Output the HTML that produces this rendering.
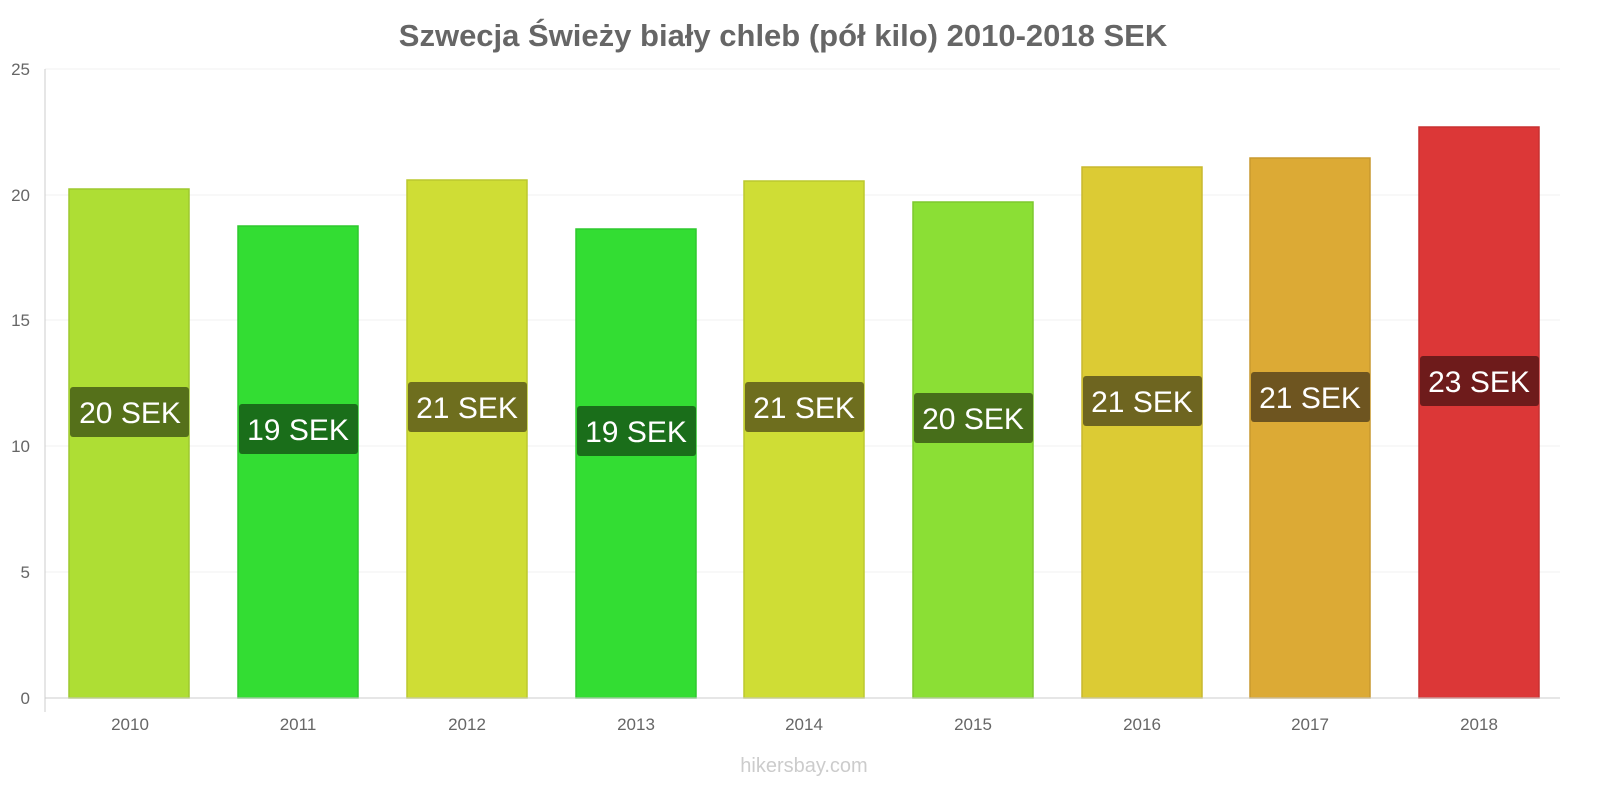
<!DOCTYPE html><html><head><style>body{margin:0;background:#fff}</style></head><body>
<svg width="1600" height="800" xmlns="http://www.w3.org/2000/svg" font-family="Liberation Sans, sans-serif">
<text x="783" y="46" text-anchor="middle" font-size="31" font-weight="bold" fill="#666">Szwecja Świeży biały chleb (pół kilo) 2010-2018 SEK</text>
<g stroke="#f0f0f0" stroke-width="1">
<line x1="45" x2="1560" y1="69" y2="69"/><line x1="45" x2="1560" y1="195" y2="195"/><line x1="45" x2="1560" y1="320" y2="320"/><line x1="45" x2="1560" y1="446" y2="446"/><line x1="45" x2="1560" y1="572" y2="572"/></g>
<g font-size="17" fill="#666" text-anchor="end">
<text x="30" y="75">25</text><text x="30" y="201">20</text><text x="30" y="326">15</text><text x="30" y="452">10</text><text x="30" y="578">5</text><text x="30" y="704">0</text></g>
<g stroke-width="1.5">
<rect x="69" y="189" width="120" height="509" fill="#aede34" stroke="#9ec82e"/>
<rect x="238" y="226" width="120" height="472" fill="#33dd33" stroke="#2ec82e"/>
<rect x="407" y="180" width="120" height="518" fill="#cfdd35" stroke="#bcc82f"/>
<rect x="576" y="229" width="120" height="469" fill="#33dd33" stroke="#2ec82e"/>
<rect x="744" y="181" width="120" height="517" fill="#cfdd35" stroke="#bcc82f"/>
<rect x="913" y="202" width="120" height="496" fill="#8bdf35" stroke="#7dc82f"/>
<rect x="1082" y="167" width="120" height="531" fill="#dccb34" stroke="#c8b82f"/>
<rect x="1250" y="158" width="120" height="540" fill="#dcaa35" stroke="#c8992f"/>
<rect x="1419" y="127" width="120" height="571" fill="#dc3737" stroke="#c83030"/></g>
<g stroke="#ccc"><line x1="45" x2="45" y1="69" y2="712"/><line x1="45" x2="1560" y1="698" y2="698"/></g>
<g font-size="30" fill="#fff" text-anchor="middle">
<rect x="70" y="387" width="119" height="50" rx="3" fill="#55701a"/><text x="130" y="423">20 SEK</text>
<rect x="239" y="404" width="119" height="50" rx="3" fill="#1a6e1a"/><text x="298" y="440">19 SEK</text>
<rect x="408" y="382" width="119" height="50" rx="3" fill="#6e6e1e"/><text x="467" y="418">21 SEK</text>
<rect x="577" y="406" width="119" height="50" rx="3" fill="#1a6e1a"/><text x="636" y="442">19 SEK</text>
<rect x="745" y="382" width="119" height="50" rx="3" fill="#6e6e1e"/><text x="804" y="418">21 SEK</text>
<rect x="914" y="393" width="119" height="50" rx="3" fill="#476e1a"/><text x="973" y="429">20 SEK</text>
<rect x="1083" y="376" width="119" height="50" rx="3" fill="#6e6520"/><text x="1142" y="412">21 SEK</text>
<rect x="1251" y="372" width="119" height="50" rx="3" fill="#6e5520"/><text x="1310" y="408">21 SEK</text>
<rect x="1420" y="356" width="119" height="50" rx="3" fill="#6e1b1b"/><text x="1479" y="392">23 SEK</text></g>
<g font-size="17" fill="#666" text-anchor="middle">
<text x="130" y="730">2010</text><text x="298" y="730">2011</text><text x="467" y="730">2012</text><text x="636" y="730">2013</text><text x="804" y="730">2014</text><text x="973" y="730">2015</text><text x="1142" y="730">2016</text><text x="1310" y="730">2017</text><text x="1479" y="730">2018</text></g>
<text x="804" y="772" text-anchor="middle" font-size="20" fill="#ccc">hikersbay.com</text>
</svg></body></html>
